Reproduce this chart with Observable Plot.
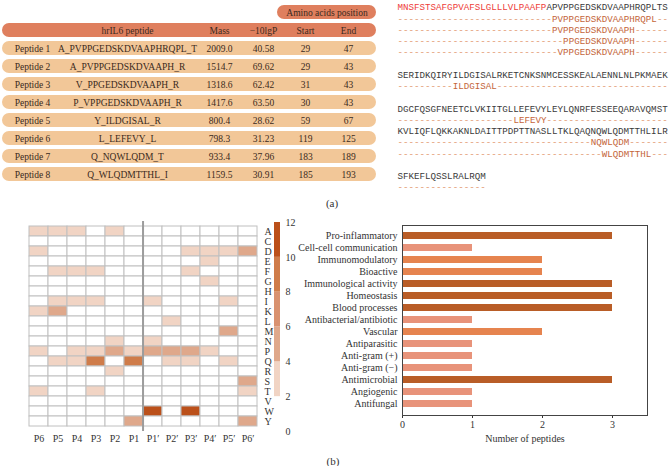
<!DOCTYPE html>
<html><head><meta charset="utf-8">
<script src="https://cdn.jsdelivr.net/npm/d3@7"></script>
<script src="https://cdn.jsdelivr.net/npm/@observablehq/plot@0.6"></script>
<style>
body{margin:0;background:#fff;}
#fig{position:relative;width:670px;height:466px;overflow:hidden;font-family:"Liberation Serif",serif;color:#333;background:#fff;}
#fig svg{position:absolute;}
.lab{position:absolute;font-size:11px;transform:translate(-50%,-50%);color:#333;}
</style></head><body><div id="fig"></div>
<script>
// ---------- Panel (a): peptide table ----------
const peptideNames = ["Peptide 1","Peptide 2","Peptide 3","Peptide 4","Peptide 5","Peptide 6","Peptide 7","Peptide 8"];
const peptideSeqs = ["A_PVPPGEDSKDVAAPHRQPL_T","A_PVPPGEDSKDVAAPH_R","V_PPGEDSKDVAAPH_R","P_VPPGEDSKDVAAPH_R","Y_ILDGISAL_R","L_LEFEVY_L","Q_NQWLQDM_T","Q_WLQDMTTHL_I"];
const masses = [2009.0, 1514.7, 1318.6, 1417.6, 800.4, 798.3, 933.4, 1159.5];
const scores = [40.58, 69.62, 62.42, 63.50, 28.62, 31.23, 37.96, 30.91];
const starts = [29, 29, 31, 30, 59, 119, 183, 185];
const ends = [47, 43, 43, 43, 67, 125, 189, 193];
const headerLabels = ["", "hrIL6 peptide", "Mass", "\u221210lgP", "Start", "End"];
const groupHeader = "Amino acids position";

// ---------- Panel (a): hrIL6 sequence ----------
const seqLines = [
  "MNSFSTSAFGPVAFSLGLLLVLPAAFPAPVPPGEDSKDVAAPHRQPLTS",
  "SERIDKQIRYILDGISALRKETCNKSNMCESSKEALAENNLNLPKMAEK",
  "DGCFQSGFNEETCLVKIITGLLEFEVYLEYLQNRFESSEEQARAVQMST",
  "KVLIQFLQKKAKNLDAITTPDPTTNASLLTKLQAQNQWLQDMTTHLILR",
  "SFKEFLQSSLRALRQM"
];
const signalLength = 27;

// ---------- Panel (b): cleavage-site heatmap ----------
const residues = ["A","C","D","E","F","G","H","I","K","L","M","N","P","Q","R","S","T","V","W","Y"];
const sites = ["P6","P5","P4","P3","P2","P1","P1\u2032","P2\u2032","P3\u2032","P4\u2032","P5\u2032","P6\u2032"];
const siteCounts = [
  [3,3,3,0,3,0, 0,0,0,0,0,0], // A
  [0,0,0,0,0,0, 0,0,0,0,0,0], // C
  [3,0,0,0,0,0, 0,0,3,3,3,5], // D
  [0,0,0,0,0,0, 0,0,0,3,0,0], // E
  [0,3,3,3,0,0, 0,0,3,0,0,0], // F
  [0,0,0,0,0,0, 0,0,0,3,0,0], // G
  [0,0,0,0,0,0, 0,0,0,0,0,0], // H
  [0,3,3,3,0,0, 3,0,0,0,3,0], // I
  [3,5,0,0,0,0, 0,0,0,0,0,0], // K
  [0,0,0,0,0,0, 0,3,0,0,0,0], // L
  [0,0,0,0,0,0, 0,0,0,0,5,0], // M
  [0,0,0,0,3,0, 3,0,0,0,0,0], // N
  [3,0,3,3,5,3, 5,5,5,3,0,0], // P
  [0,3,3,9,0,9, 0,3,3,0,3,0], // Q
  [0,0,0,0,3,0, 0,0,0,0,0,0], // R
  [0,0,0,0,0,0, 0,0,0,0,0,5], // S
  [3,0,0,3,0,0, 0,0,0,0,0,3], // T
  [0,0,0,0,0,0, 0,0,0,0,0,0], // V
  [0,0,0,0,0,0, 11,0,11,0,0,0], // W
  [0,0,0,0,0,5, 0,0,0,0,0,5]  // Y
];
const legendTicks = [0, 2, 4, 6, 8, 10, 12];
const heatThresholds = [2, 4, 6, 8, 10];

// ---------- Panel (b): bioactivities ----------
const activities = ["Pro-inflammatory","Cell-cell communication","Immunomodulatory","Bioactive","Immunological activity","Homeostasis","Blood processes","Antibacterial/antibiotic","Vascular","Antiparasitic","Anti-gram (+)","Anti-gram (\u2212)","Antimicrobial","Angiogenic","Antifungal"];
const activityCounts = [3,1,2,2,3,3,3,1,2,1,1,1,3,1,1];
const barTicks = [0, 1, 2, 3];
const barLabel = "Number of peptides";

// ---------- Layout and style ----------
const tableWidth = 380;
const tableCols = [32, 127, 219, 263, 305, 348];
const tableSpan = [2, 376];
const groupSpan = [277, 376];
const blockRows = [0, 6, 9, 11, 15];
const cHead = "#df7f5e", cRow = "#f2c798", cText = "#3a2a20";
const heatPalette = ["#ffffff","#f1d4c4","#dfa88b","#d99270","#cf7c4a","#bb501a"];
const barPalette = ["#e8937a","#e6844f","#b95d27"];
const serif = "Liberation Serif";
const baseStyle = {background: "transparent", fontFamily: serif, fontSize: "10px", color: "#333", overflow: "visible"};

const fig = document.getElementById("fig");
function place(svg, left, top) { svg.style.left = left + "px"; svg.style.top = top + "px"; fig.appendChild(svg); }
function label(txt, x, y) { const d = document.createElement("div"); d.className = "lab"; d.style.left = x + "px"; d.style.top = y + "px"; d.textContent = txt; fig.appendChild(d); }

// ---------- Table ----------
const rows = peptideNames.map((name, i) => ({name, seq: peptideSeqs[i], mass: masses[i].toFixed(1), score: scores[i].toFixed(2), start: String(starts[i]), end: String(ends[i])}));
const colKeys = ["name","seq","mass","score","start","end"];
const tableY = ["group","header", ...peptideNames];
const tableMarks = [
  Plot.barX([groupHeader], {x1: () => groupSpan[0], x2: () => groupSpan[1], y: () => "group", fill: cHead, rx: 7}),
  Plot.text([groupHeader], {x: () => (groupSpan[0] + groupSpan[1]) / 2, y: () => "group", text: d => d, fill: cText, fontSize: 9.5}),
  Plot.barX(["header"], {x1: () => tableSpan[0], x2: () => tableSpan[1], y: d => d, fill: cHead, rx: 7}),
  Plot.barX(rows, {x1: () => tableSpan[0], x2: () => tableSpan[1], y: "name", fill: cRow, rx: 7}),
  Plot.text(headerLabels.map((t, j) => ({t, x: tableCols[j]})), {x: "x", y: () => "header", text: "t", fill: cText, fontSize: 9.5}),
  ...colKeys.map((k, j) => Plot.text(rows, {x: () => tableCols[j], y: "name", text: k, fill: cText, fontSize: 9.5}))
];
place(Plot.plot({
  width: tableWidth, height: 187, marginLeft: 0, marginRight: 0, marginTop: 0, marginBottom: 1,
  style: baseStyle,
  x: {domain: [0, tableWidth], axis: null},
  y: {domain: tableY, paddingInner: 0.25, paddingOuter: 0.125, axis: null},
  marks: tableMarks
}), 0, 0);

// ---------- Sequence alignment ----------
const seqItems = [];
seqLines.forEach((line, li) => {
  if (li === 0) {
    seqItems.push({x: 0, row: blockRows[li], s: line.slice(0, signalLength), c: "#ee3d3a"});
    seqItems.push({x: signalLength, row: blockRows[li], s: line.slice(signalLength), c: "#3a3a3a"});
  } else {
    seqItems.push({x: 0, row: blockRows[li], s: line, c: "#3a3a3a"});
  }
});
const perLine = seqLines.map(() => 0);
const dashItems = [];
peptideSeqs.map(s => s.split("_")[1]).forEach(p => {
  const li = seqLines.findIndex(l => l.includes(p));
  const off = seqLines[li].indexOf(p);
  const row = blockRows[li] + 1 + perLine[li]++;
  const len = seqLines[li].length;
  dashItems.push({x: 0, row, s: "-".repeat(off), c: "#e2996f"});
  dashItems.push({x: off, row, s: p, c: "#c4653a"});
  dashItems.push({x: off + p.length, row, s: "-".repeat(len - off - p.length), c: "#e2996f"});
});
seqLines.forEach((l, li) => { if (!perLine[li]) dashItems.push({x: 0, row: blockRows[li] + 1, s: "-".repeat(l.length), c: "#e2996f"}); });
place(Plot.plot({
  width: 280, height: 195, marginLeft: 7, marginRight: 2.5, marginTop: 7, marginBottom: 8,
  style: baseStyle,
  x: {domain: [0, seqLines[0].length], axis: null},
  y: {domain: [0, 16], reverse: true, axis: null},
  marks: [
    Plot.text([...seqItems, ...dashItems], {x: "x", y: "row", text: "s", fill: "c", textAnchor: "start", fontFamily: "Liberation Mono", fontSize: 9.2})
  ]
}), 390, 0);

// ---------- Heatmap ----------
const heatData = residues.flatMap((r, i) => sites.map((s, j) => ({residue: r, site: s, value: siteCounts[i][j]})));
const heatW = 290, heatML = 23, heatMR = 28;
const bw = (heatW - heatML - heatMR) / sites.length;
place(Plot.plot({
  width: heatW, height: 235, marginLeft: heatML, marginRight: heatMR, marginTop: 6, marginBottom: 19,
  style: baseStyle,
  x: {domain: sites, padding: 0, tickSize: 0, tickPadding: 3, label: null, axis: "bottom"},
  y: {domain: residues, padding: 0, tickSize: 0, tickPadding: 2, label: null, axis: "right"},
  color: {type: "threshold", domain: heatThresholds, range: heatPalette},
  marks: [
    Plot.cell(heatData, {x: "site", y: "residue", fill: "value", stroke: "#c0c0c0", strokeWidth: 1}),
    Plot.ruleX([sites[6]], {x: d => d, dx: -bw / 2, stroke: "#9c9c9c", strokeWidth: 2})
  ]
}), 0, 215);

// ---------- Heatmap colour legend ----------
const bands = heatThresholds.map((t, i) => ({lo: t, hi: heatThresholds[i + 1] ?? legendTicks[legendTicks.length - 1]}));
place(Plot.plot({
  width: 40, height: 235, marginLeft: 9, marginRight: 25, marginTop: 7, marginBottom: 19,
  style: baseStyle,
  x: {domain: [0, 1], axis: null},
  y: {domain: [legendTicks[0], legendTicks[legendTicks.length - 1]], axis: null},
  color: {type: "threshold", domain: heatThresholds, range: heatPalette},
  marks: [
    Plot.rect(bands, {x1: () => 0, x2: () => 1, y1: "lo", y2: "hi", fill: d => (d.lo + d.hi) / 2}),
    Plot.text(legendTicks, {x: () => 1, y: d => d, text: d => String(d), dx: 5, textAnchor: "start", fill: "#333"})
  ]
}), 265, 215);

// ---------- Bar chart ----------
const barData = activities.map((a, i) => ({a, n: activityCounts[i]}));
place(Plot.plot({
  width: 380, height: 235, marginLeft: 112, marginRight: 23, marginTop: 10, marginBottom: 35,
  style: baseStyle,
  x: {domain: [0, 3.5], ticks: barTicks, tickFormat: d3.format("d"), tickSize: 3, tickPadding: 2, label: null},
  y: {domain: activities, padding: 0.41, tickSize: 0, tickPadding: 5, label: null},
  color: {type: "ordinal", domain: [1, 2, 3], range: barPalette},
  marks: [
    Plot.barX(barData, {x: "n", y: "a", fill: "n"}),
    Plot.frame({stroke: "#444"}),
    Plot.text([barLabel], {frameAnchor: "bottom", dy: 26, text: d => d, fill: "#333"})
  ]
}), 290, 215);

label("(a)", 332, 203);
label("(b)", 333, 461);
</script></body></html>
